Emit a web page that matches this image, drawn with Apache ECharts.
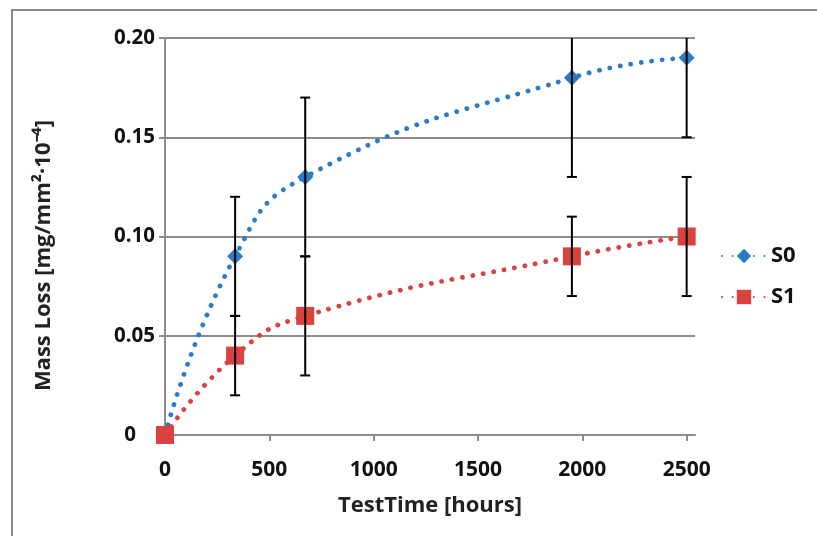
<!DOCTYPE html>
<html>
<head>
<meta charset="utf-8">
<script src="https://cdn.jsdelivr.net/npm/echarts@6/dist/echarts.min.js"></script>
<style>html,body{margin:0;padding:0;background:#fff;}#c{width:817px;height:536px;}</style>
</head>
<body>
<div id="c"></div>
<script>
const testTime = [0, 336, 672, 1950, 2500];
const s0 = [0, 0.09, 0.13, 0.18, 0.19];
const s0Err = [0, 0.03, 0.04, 0.05, 0.04];
const s1 = [0, 0.04, 0.06, 0.09, 0.10];
const s1Err = [0, 0.02, 0.03, 0.02, 0.03];
const xTicks = [0, 500, 1000, 1500, 2000, 2500];
const seriesNames = ['S0', 'S1'];

const BLUE = '#2a7cc7';
const RED = '#d9423f';
const FONT = 'Open Sans';

function pairs(xs, ys) { return xs.map((x, i) => [x, ys[i]]); }
function errData(xs, ys, es) { return xs.map((x, i) => [x, ys[i] - es[i], ys[i] + es[i]]).filter((d, i) => es[i] > 0); }

function renderErr(params, api) {
  const x = api.value(0);
  const lo = api.coord([x, api.value(1)]);
  const hi = api.coord([x, api.value(2)]);
  const cap = 5;
  const st = { stroke: '#000', lineWidth: 2 };
  return {
    type: 'group',
    children: [
      { type: 'line', shape: { x1: lo[0], y1: lo[1], x2: hi[0], y2: hi[1] }, style: st },
      { type: 'line', shape: { x1: lo[0] - cap, y1: lo[1], x2: lo[0] + cap, y2: lo[1] }, style: st },
      { type: 'line', shape: { x1: hi[0] - cap, y1: hi[1], x2: hi[0] + cap, y2: hi[1] }, style: st }
    ]
  };
}

const chart = echarts.init(document.getElementById('c'));
chart.setOption({
  animation: false,
  backgroundColor: '#fff',
  graphic: [{
    type: 'polyline', silent: true, z: -10,
    shape: { points: [[12, 540], [12, 10], [820, 10]] },
    style: { fill: 'none', stroke: '#8a8a8a', lineWidth: 2 }
  }],
  grid: { left: 165, right: 122, top: 38, bottom: 101 },
  xAxis: {
    type: 'value', min: 0, max: 2540, interval: 500,
    name: 'TestTime [hours]', nameLocation: 'middle', nameGap: 60,
    nameTextStyle: { fontFamily: FONT, fontWeight: 'bold', fontSize: 22, color: '#222' },
    axisLine: { show: true, lineStyle: { color: '#8c8c8c', width: 2 } },
    axisTick: { show: true, length: 6, inside: false, customValues: xTicks, lineStyle: { color: '#8c8c8c', width: 2 } },
    axisLabel: { customValues: xTicks, margin: 25, fontFamily: FONT, fontWeight: 'bold', fontSize: 21, color: '#111',
      formatter: v => String(v) },
    splitLine: { show: false }
  },
  yAxis: {
    type: 'value', min: 0, max: 0.2, interval: 0.05,
    name: 'Mass Loss [mg/mm²·10⁻⁴]', nameLocation: 'middle', nameGap: 110, nameRotate: 90,
    nameTextStyle: { fontFamily: FONT, fontWeight: 'bold', fontSize: 22, color: '#222', padding: [0, 38, 0, 0] },
    axisLine: { show: true, lineStyle: { color: '#8c8c8c', width: 2 } },
    axisTick: { show: true, length: 6, lineStyle: { color: '#8c8c8c', width: 2 } },
    axisLabel: {
      margin: 10, fontFamily: FONT, fontWeight: 'bold', fontSize: 20.5, color: '#111',
      formatter: v => v === 0 ? '{z|0}' : v.toFixed(2),
      rich: { z: { fontFamily: FONT, fontWeight: 'bold', fontSize: 20.5, color: '#111', padding: [0, 19, 0, 0] } }
    },
    splitLine: { show: true, lineStyle: { color: '#8c8c8c', width: 2 } }
  },
  legend: {
    orient: 'vertical', left: 716, top: 240, itemGap: 19, itemWidth: 44, itemHeight: 18,
    textStyle: { fontFamily: FONT, fontWeight: 'bold', fontSize: 22, color: '#111', padding: [0, 0, 0, 0] },
    data: seriesNames
  },
  series: [
    {
      name: seriesNames[0], type: 'line', smooth: 0.5, data: pairs(testTime, s0),
      symbol: 'path://M0,-1L1,0L0,1L-1,0Z', symbolSize: 16,
      itemStyle: { color: BLUE },
      lineStyle: { color: BLUE, width: 4.8, type: [0.1, 10.5], cap: 'round' },
      z: 3
    },
    {
      name: seriesNames[1], type: 'line', smooth: 0.5, data: pairs(testTime, s1),
      symbol: 'rect', symbolSize: 18,
      itemStyle: { color: RED },
      lineStyle: { color: RED, width: 4.8, type: [0.1, 10.5], cap: 'round' },
      z: 3
    },
    {
      type: 'custom', name: 'errS0', renderItem: renderErr, clip: true, z: 5,
      encode: { x: 0, y: [1, 2] }, data: errData(testTime, s0, s0Err), silent: true
    },
    {
      type: 'custom', name: 'errS1', renderItem: renderErr, clip: true, z: 5,
      encode: { x: 0, y: [1, 2] }, data: errData(testTime, s1, s1Err), silent: true
    }
  ]
});
</script>
</body>
</html>
